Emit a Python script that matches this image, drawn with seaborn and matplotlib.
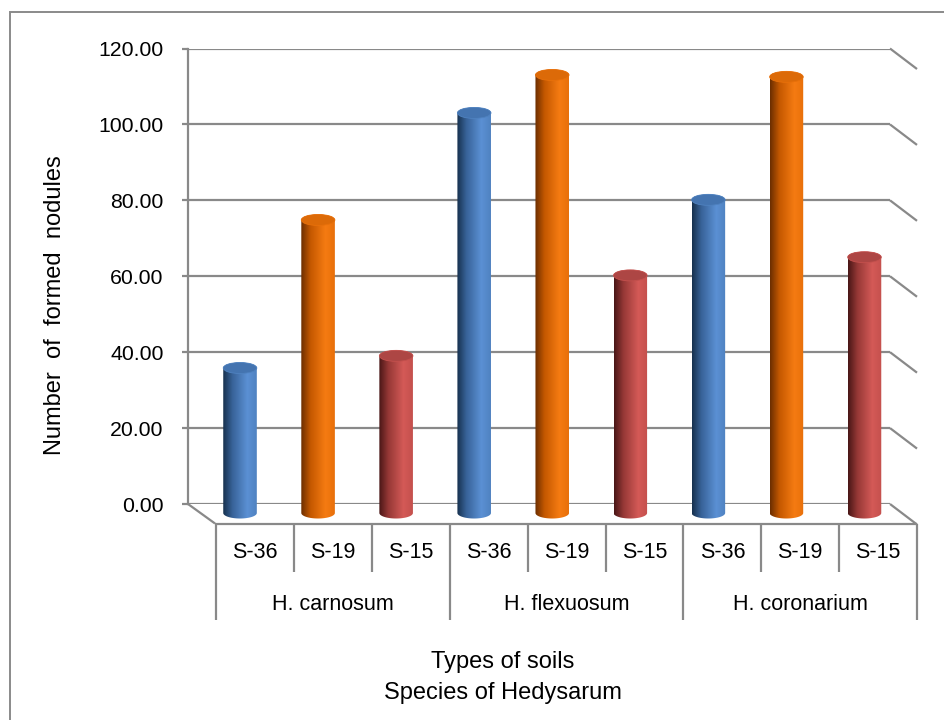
import numpy as np
import pandas as pd
import matplotlib
matplotlib.use("Agg")
import matplotlib.pyplot as plt
import seaborn as sns
from matplotlib.patches import Ellipse, Polygon, Rectangle
from matplotlib.lines import Line2D
from matplotlib.colors import LinearSegmentedColormap, to_rgb

# ---- data -------------------------------------------------------------
species = ["H. carnosum", "H. flexuosum", "H. coronarium"]
soils = ["S-36", "S-19", "S-15"]
nodules_carnosum = [38.2, 77.2, 41.4]
nodules_flexuosum = [105.4, 115.4, 62.6]
nodules_coronarium = [82.5, 114.9, 67.4]
y_ticks = [0, 20, 40, 60, 80, 100, 120]
soil_colors = {"S-36": "#4F81BD", "S-19": "#F07810", "S-15": "#C0504D"}

# cylinder shading (left shadow -> highlight -> edge) and top-face colour
cyl_stops = {
    "S-36": ["#16304d", "#386399", "#5b90d4", "#4f82c0"],
    "S-19": ["#6a2d00", "#c45800", "#f57b12", "#e8700a"],
    "S-15": ["#481616", "#963836", "#d45a57", "#c4504d"],
}
top_colors = {"S-36": "#4474b0", "S-19": "#dc6a08", "S-15": "#ad4644"}

rows = []
for sp, vals in zip(species, [nodules_carnosum, nodules_flexuosum, nodules_coronarium]):
    for so, v in zip(soils, vals):
        rows.append({"species": sp, "soil": so, "pos": f"{sp}\n{so}", "nodules": v})
df = pd.DataFrame(rows)

# ---- figure ----------------------------------------------------------
sns.set_theme(style="white")
plt.rcParams["font.family"] = ["Liberation Sans", "DejaVu Sans"]
plt.rcParams["text.color"] = "black"

W, H = 944, 720
fig = plt.figure(figsize=(W / 100, H / 100), dpi=100)
fig.patch.set_facecolor("white")
GRID = "#898989"
LW = 1.6


def fx(px):
    return px / W


def fy(py):
    return 1 - py / H


def fig_line(xs, ys, **kw):
    fig.add_artist(Line2D([fx(x) for x in xs], [fy(y) for y in ys],
                          transform=fig.transFigure, color=GRID, lw=LW,
                          solid_capstyle="butt", **kw))


# outer chart frame
fig.add_artist(Rectangle((fx(10), fy(730)), fx(960) - fx(10), fy(12) - fy(730),
                         transform=fig.transFigure, fill=False,
                         edgecolor="#8a8a8a", lw=1.4))

# back wall with value axis and gridlines
BL, BR, BT, BB = 188, 890, 48.5, 504
ax_back = fig.add_axes([fx(BL), fy(BB), (BR - BL) / W, (BB - BT) / H])
ax_back.set_facecolor("none")
ax_back.set_xlim(0, 1)
ax_back.set_ylim(0, 120)
ax_back.set_xticks([])
ax_back.set_yticks(y_ticks)
ax_back.set_yticklabels([f"{v:.2f}" for v in y_ticks], fontsize=15.3, color="black")
ax_back.yaxis.grid(True, color=GRID, lw=LW)
ax_back.tick_params(axis="y", left=True, length=4.5, width=LW, color=GRID, pad=13)
for s in ["top", "right", "bottom"]:
    ax_back.spines[s].set_visible(False)
ax_back.spines["left"].set_color(GRID)
ax_back.spines["left"].set_linewidth(LW)

# side wall edges and floor
px_per_unit = (BB - BT) / 120
for v in y_ticks:
    yb = BB - v * px_per_unit
    fig_line([BR, BR + 27], [yb, yb + 20.5])
fig_line([BL, 215], [BB, 523.5])
fig_line([215, BR + 27], [523.5, 523.5])

# category boxes below the floor
cell = 77.9
for k in range(10):
    xk = 216 + k * cell
    fig_line([xk, xk], [523.5, 620 if k % 3 == 0 else 572])
for k, so in enumerate(soils * 3):
    fig.text(fx(216 + (k + 0.5) * cell), fy(553), so, ha="center", va="center",
             fontsize=15.5, color="black")
for j, sp in enumerate(species):
    fig.text(fx(216 + (3 * j + 1.5) * cell), fy(605), sp, ha="center",
             va="center", fontsize=15.5, color="black")

# axis titles
fig.text(fx(55), fy(305), "Number  of  formed  nodules", rotation=90,
         ha="center", va="center", fontsize=17, color="black")
fig.text(fx(503), fy(662), "Types of soils", ha="center", va="center",
         fontsize=17, color="black")
fig.text(fx(503), fy(693), "Species of Hedysarum", ha="center", va="center",
         fontsize=17, color="black")

# bar plane (mid-depth between back wall and front floor edge);
# the value range starts a little below zero so the rounded bases stay visible
Y0, Y_LOW = 513, -3.0
ax = fig.add_axes([fx(201), fy(Y0 - Y_LOW * px_per_unit), 702.5 / W,
                   (120 - Y_LOW) * px_per_unit / H])
sns.barplot(data=df, x="pos", y="nodules", hue="soil", order=df["pos"],
            palette=soil_colors, dodge=False, width=0.43, saturation=1,
            ax=ax, legend=False)
ax.set_facecolor("none")

b = 5.5 / px_per_unit  # ellipse semi-height in data units
t = np.linspace(0, np.pi, 60)
soil_rgb = {so: np.array(to_rgb(c)) for so, c in soil_colors.items()}


def soil_of(patch):
    rgb = np.array(patch.get_facecolor()[:3])
    return min(soil_rgb, key=lambda so: np.abs(soil_rgb[so] - rgb).sum())


for p in list(ax.patches):
    h = p.get_height()
    if not np.isfinite(h) or h <= 0:
        continue
    x0, w = p.get_x(), p.get_width()
    xc, a = x0 + w / 2, w / 2
    so = soil_of(p)
    p.set_alpha(0)
    st = cyl_stops[so]
    cmap = LinearSegmentedColormap.from_list(
        "cyl", [(0, st[0]), (0.28, st[1]), (0.72, st[2]), (1, st[3])])
    lower = np.column_stack([xc - a * np.cos(t), -b * np.sin(t)])
    upper = np.column_stack([xc + a * np.cos(t), h + b * np.sin(t)])
    body = Polygon(np.vstack([lower, upper]), closed=True, transform=ax.transData,
                   facecolor="none", edgecolor="none")
    ax.add_patch(body)
    im = ax.imshow(np.linspace(0, 1, 256).reshape(1, -1), cmap=cmap,
                   extent=(xc - a, xc + a, -b, h + b), aspect="auto",
                   origin="lower", zorder=3, interpolation="bilinear")
    im.set_clip_path(body)
    top = Ellipse((xc, h), 2 * a, 2 * b, facecolor=top_colors[so],
                  edgecolor=st[3], lw=0.6, zorder=4)
    ax.add_patch(top)

ax.set_xlim(-0.5, 8.5)
ax.set_ylim(Y_LOW, 120)
ax.axis("off")

fig.savefig("out.png", dpi=100, facecolor="white")
